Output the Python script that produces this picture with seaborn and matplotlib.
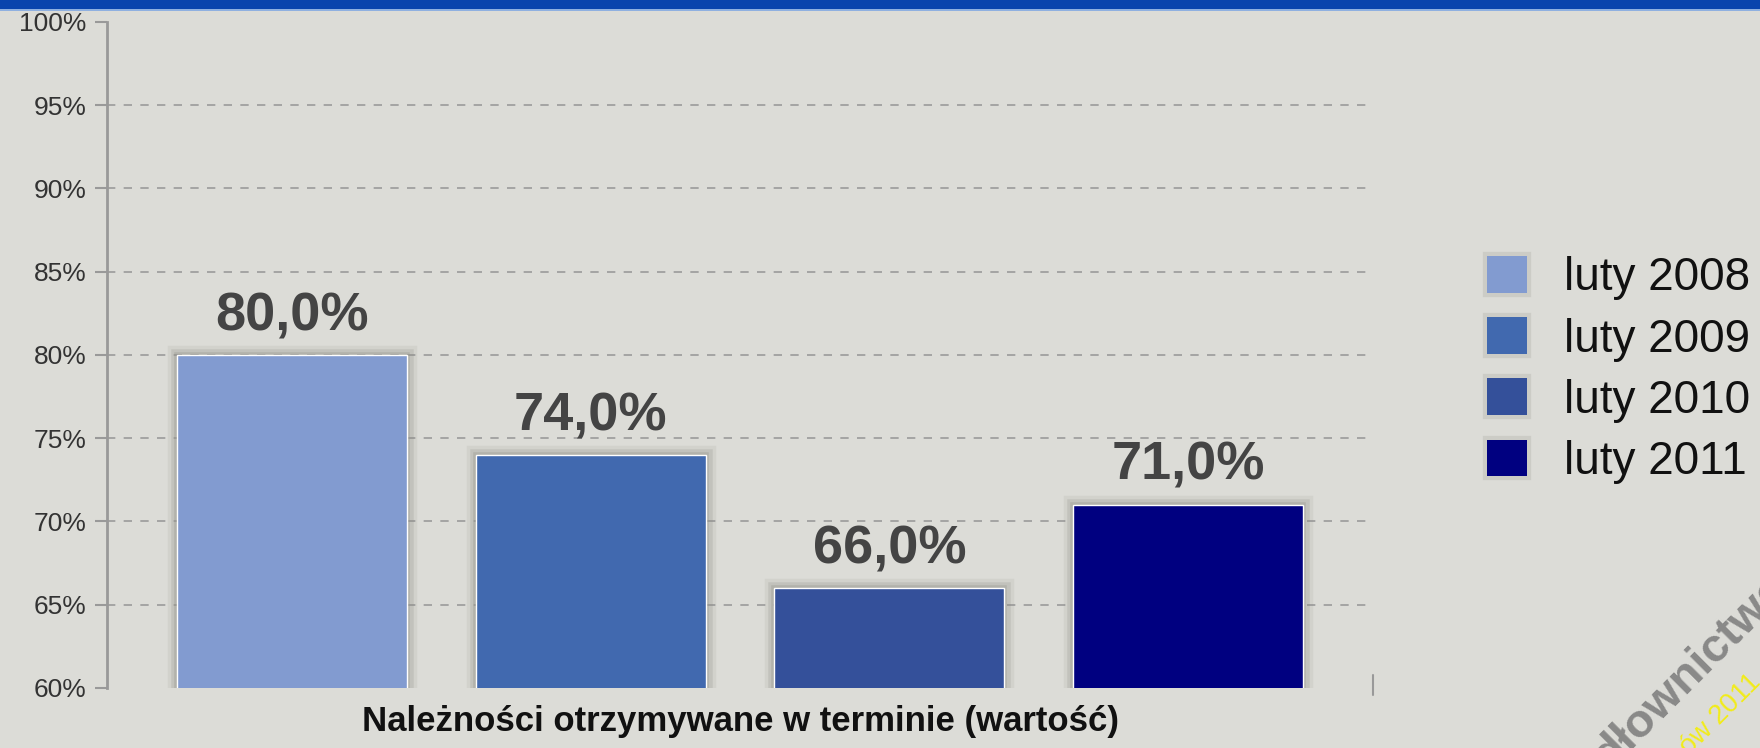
import matplotlib
matplotlib.use('Agg')
import matplotlib.pyplot as plt
import matplotlib.patheffects as pe
from matplotlib import font_manager
import seaborn as sns

# Data
series = ['luty 2008', 'luty 2009', 'luty 2010', 'luty 2011']
values = [80.0, 74.0, 66.0, 71.0]
colors = ['#829bd0', '#4169af', '#34509a', '#000080']
yticks = [60, 65, 70, 75, 80, 85, 90, 95, 100]
xlabel = 'Należności otrzymywane w terminie (wartość)'

bg = '#dcdcd7'

sns.set_style('white')
plt.rcParams['font.family'] = ['Liberation Sans', 'DejaVu Sans']

installed = {f.name for f in font_manager.fontManager.ttflist}
if 'Liberation Sans Narrow' in installed:
    narrow, narrow_size = 'Liberation Sans Narrow', 30
else:
    narrow, narrow_size = 'Liberation Sans', 25

fig = plt.figure(figsize=(17.6, 7.48), dpi=100, facecolor=bg)
ax = fig.add_axes([107 / 1760, 1 - 688 / 748, 1266 / 1760, 666 / 748])
ax.set_facecolor(bg)

sns.barplot(x=series, y=values, hue=series, palette=colors, width=0.77,
            saturation=1, legend=False, ax=ax)

# soft grey glow round the bars
glow = [pe.Stroke(linewidth=14, foreground='#8c8c84', alpha=0.12),
        pe.Stroke(linewidth=9, foreground='#8c8c84', alpha=0.22),
        pe.Stroke(linewidth=4, foreground='#9a9a92', alpha=0.4),
        pe.Normal()]
for bar in ax.patches:
    bar.set_path_effects(glow)

for cont, v in zip(ax.containers, values):
    ax.bar_label(cont, labels=[f'{v:.1f}%'.replace('.', ',')], padding=10,
                 fontsize=39, fontweight='bold', color='#444444')

ax.set_ylim(60, 100)
ax.set_xlim(-0.62, 3.62)
ax.set_yticks(yticks)
ax.set_yticklabels([f'{t}%' for t in yticks], fontsize=19, color='#333333')
ax.set_xticks([])

ax.yaxis.grid(True, linestyle=(0, (5, 5)), color='#9a9a9a', linewidth=1.2)
gl = ax.yaxis.get_gridlines()
gl[0].set_visible(False)
gl[-1].set_visible(False)
ax.set_axisbelow(True)

for s in ['top', 'right', 'bottom']:
    ax.spines[s].set_visible(False)
ax.spines['left'].set_color('#999999')
ax.spines['left'].set_linewidth(2)
ax.tick_params(axis='y', left=True, length=9, width=1.5, color='#999999', pad=6)
# small tick at the right end of the category axis
ax.plot([1, 1], [-0.01, 0.02], transform=ax.transAxes, color='#999999',
        lw=1.5, clip_on=False)

ax.set_xlabel(xlabel, fontsize=narrow_size, fontweight='bold', color='#111111',
              family=[narrow, 'DejaVu Sans'], labelpad=12)
ax.set_ylabel('')

handles = [plt.Rectangle((0, 0), 1, 1, facecolor=c, edgecolor='none') for c in colors]
leg = fig.legend(handles, series, loc='center left',
                 bbox_to_anchor=(1487 / 1760, 1 - 370 / 748), frameon=False,
                 fontsize=33, handlelength=0.87, handleheight=0.85,
                 handletextpad=0.8, labelspacing=0.37, borderpad=0,
                 borderaxespad=0)
for t in leg.get_texts():
    t.set_color('#111111')
for h in leg.legend_handles:
    h.set_path_effects([pe.Stroke(linewidth=6, foreground='#8c8c84', alpha=0.2),
                        pe.Normal()])

# top band
fig.patches.append(plt.Rectangle((0, 1 - 9 / 748), 1, 9 / 748, transform=fig.transFigure,
                                 facecolor='#0a44ad', edgecolor='none', zorder=5))
fig.patches.append(plt.Rectangle((0, 1 - 11 / 748), 1, 2 / 748, transform=fig.transFigure,
                                 facecolor='#8fb0e0', edgecolor='none', zorder=5))

# watermark remnants in the lower right corner
fig.text(1585 / 1760, -30 / 748, 'dłownictwo', rotation=45, fontsize=34,
         fontweight='bold', color='#7a7a7a', alpha=0.85, ha='left', va='bottom')
fig.text(1675 / 1760, -12 / 748, 'ów 2011', rotation=45, fontsize=20,
         color='#f2ec1a', ha='left', va='bottom')

fig.savefig('out.png', dpi=100, facecolor=bg)
